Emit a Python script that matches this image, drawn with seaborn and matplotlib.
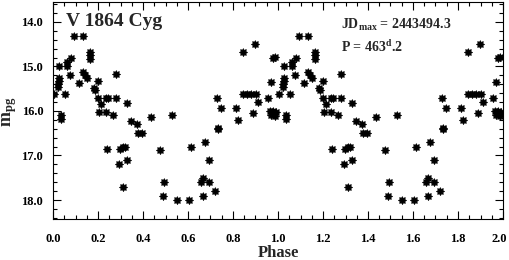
import matplotlib
matplotlib.use("Agg")
import matplotlib.pyplot as plt
import matplotlib.ticker as mticker
import matplotlib.transforms as mtransforms
import numpy as np
import pandas as pd
import seaborn as sns

# phase (0..1) and photographic magnitude
phase = [0.093, 0.135, 0.164, 0.164, 0.164, 0.080, 0.061, 0.061, 0.028, 0.076,
         0.132, 0.142, 0.150, 0.117, 0.200, 0.184, 0.187, 0.280, 0.025, 0.025,
         0.022, 0.020, 0.846, 0.898, 0.979, 0.987, 0.967,
         0.006, 0.053, 0.034, 0.034, 0.201, 0.213, 0.204, 0.236, 0.236, 0.246,
         0.268, 0.280, 0.330, 0.345, 0.372, 0.434, 0.529, 0.730, 0.747, 0.735,
         0.812, 0.821, 0.888, 0.843, 0.864, 0.879, 0.902, 0.912, 0.957,
         0.965, 0.978, 0.990, 0.970, 0.985, 0.379, 0.394,
         0.241, 0.298, 0.310, 0.320, 0.295, 0.327, 0.313, 0.476, 0.495, 0.490,
         0.552, 0.606, 0.612, 0.676, 0.693, 0.656, 0.668, 0.695, 0.668, 0.720,
         0.732]
mag = [14.31, 14.31, 14.67, 14.75, 14.84, 14.82, 14.90, 15.00, 15.00, 15.19,
       15.12, 15.19, 15.27, 15.38, 15.33, 15.49, 15.53, 15.17, 15.25, 15.32,
       15.40, 15.45, 14.67, 14.50, 14.82, 14.79, 15.34,
       15.62, 15.62, 16.09, 16.19, 15.70, 15.84, 16.02, 16.02, 15.70, 15.70,
       16.10, 15.71, 15.83, 16.22, 16.30, 16.13, 16.09, 15.70, 15.94, 16.38,
       15.94, 16.20, 16.05, 15.62, 15.62, 15.62, 15.62, 15.79, 15.70,
       16.00, 16.00, 16.02, 16.10, 16.12, 16.50, 16.50,
       16.85, 16.85, 16.82, 16.80, 17.20, 17.10, 17.70, 16.88, 17.60, 17.90,
       18.00, 18.00, 16.80, 16.70, 17.10, 17.60, 17.50, 17.60, 17.90, 17.80,
       16.40]

x_ticks = [0.0, 0.2, 0.4, 0.6, 0.8, 1.0, 1.2, 1.4, 1.6, 1.8, 2.0]
y_ticks = [14.0, 15.0, 16.0, 17.0, 18.0]

df = pd.DataFrame({"phase": phase, "mag": mag})
df2 = df.copy()
df2["phase"] = df2["phase"] + 1.0
data = pd.concat([df, df2], ignore_index=True)

sns.set_style("ticks")
plt.rcParams["font.family"] = ["Liberation Serif", "DejaVu Serif"]
plt.rcParams["font.weight"] = "bold"
plt.rcParams["mathtext.fontset"] = "custom"
plt.rcParams["mathtext.rm"] = "Liberation Serif:bold"
plt.rcParams["mathtext.bf"] = "Liberation Serif:bold"
plt.rcParams["mathtext.it"] = "Liberation Serif:bold"

# chunky 8-point star, like the plotted glyphs in the original
ang = np.linspace(0, 2 * np.pi, 17)[:-1] + np.pi / 2
rad = np.where(np.arange(16) % 2 == 0, 1.0, 0.62)
star = list(zip(rad * np.cos(ang), rad * np.sin(ang)))

fig = plt.figure(figsize=(5.09, 2.6), dpi=100)
ax = fig.add_axes([53 / 509, 41.3 / 260, 450 / 509, 217.2 / 260])

sns.scatterplot(data=data, x="phase", y="mag", marker=star, s=34,
                color="black", edgecolor="black", linewidth=0.5, ax=ax, legend=False)

ax.set_xlim(0.0, 2.0)
ax.set_ylim(18.42, 13.54)
ax.set_xticks(x_ticks)
ax.set_xticklabels([f"{t:.1f}" for t in x_ticks])
ax.set_yticks(y_ticks)
ax.set_yticklabels([f"{t:.1f}" for t in y_ticks])
ax.xaxis.set_minor_locator(mticker.MultipleLocator(0.05))
ax.yaxis.set_minor_locator(mticker.MultipleLocator(0.2))
ax.tick_params(which="both", direction="in", top=True, right=True, width=0.8,
               labelsize=9, colors="black")
ax.tick_params(which="major", length=5.5)
ax.tick_params(which="minor", length=2.8)
ax.tick_params(axis="x", pad=10)
ax.tick_params(axis="y", pad=7)
for s in ax.spines.values():
    s.set_linewidth(0.8)
    s.set_color("black")
ax.set_xlabel("")
ax.set_ylabel("")

# keep the last x label inside the canvas
last = ax.get_xticklabels()[-1]
last.set_transform(last.get_transform() +
                   mtransforms.ScaledTranslation(-3 / 72, 0, fig.dpi_scale_trans))

fig.text(278 / 509, 1 - 253 / 260, "Phase", fontsize=12, fontweight="bold",
         ha="center", va="center")
fig.text(10 / 509, 1 - 112 / 260, r"m$_{\rm pg}$", fontsize=13, fontweight="bold",
         rotation=90, ha="center", va="center")

ax.text(0.029, 0.945, "V 1864 Cyg", transform=ax.transAxes, fontsize=14,
        fontweight="bold", va="top", ha="left")
ax.text(0.64, 0.93, r"JD$_{\rm max}$ = 2443494.3", transform=ax.transAxes,
        fontsize=10, fontweight="bold", va="top", ha="left")
ax.text(0.64, 0.825, r"P = 463$^{\rm d}$.2", transform=ax.transAxes,
        fontsize=10, fontweight="bold", va="top", ha="left")

fig.savefig("out.png", dpi=100, facecolor="white")
